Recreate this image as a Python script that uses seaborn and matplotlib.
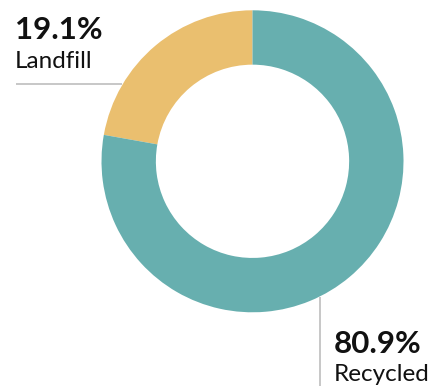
import matplotlib
matplotlib.use("Agg")
import matplotlib.pyplot as plt
import seaborn as sns

# Data
categories = ["Landfill", "Recycled"]
label_values = [19.1, 80.9]          # percentages printed on the chart
wedge_shares = [22.2, 77.8]          # arc sizes as drawn in the picture
colors = ["#EABF6F", "#67AFAF"]

sns.set_theme(style="white")
plt.rcParams['font.family'] = ['Lato', 'DejaVu Sans']

W, H = 434, 386
fig = plt.figure(figsize=(W / 100, H / 100), dpi=100)
ax = fig.add_axes([0, 0, 1, 1])

cx, cy, r = 252.5, H - 161.3, 151.0
ax.pie(wedge_shares, colors=colors, startangle=90, counterclock=True,
       center=(cx, cy), radius=r,
       wedgeprops=dict(width=r * 0.36, linewidth=0))
ax.set_aspect('auto')
ax.set_xlim(0, W)
ax.set_ylim(0, H)
ax.axis('off')

# Leader lines
ax.plot([16, 122], [H - 84, H - 84], color="#bdbdbd", lw=1.2, solid_capstyle='butt')
ax.plot([319.5, 319.5], [H - 297, H - 386], color="#bdbdbd", lw=1.2, solid_capstyle='butt')

# Labels
ax.text(15, H - 39, f"{label_values[0]}%", fontsize=22.5, fontweight='bold',
        ha='left', va='baseline', color='#111111')
ax.text(15, H - 68, categories[0], fontsize=17.5, ha='left', va='baseline', color='#111111')
ax.text(334, H - 353, f"{label_values[1]}%", fontsize=22.5, fontweight='bold',
        ha='left', va='baseline', color='#111111')
ax.text(334, H - 381, categories[1], fontsize=17.5, ha='left', va='baseline', color='#111111')

fig.savefig("out.png", dpi=100)
